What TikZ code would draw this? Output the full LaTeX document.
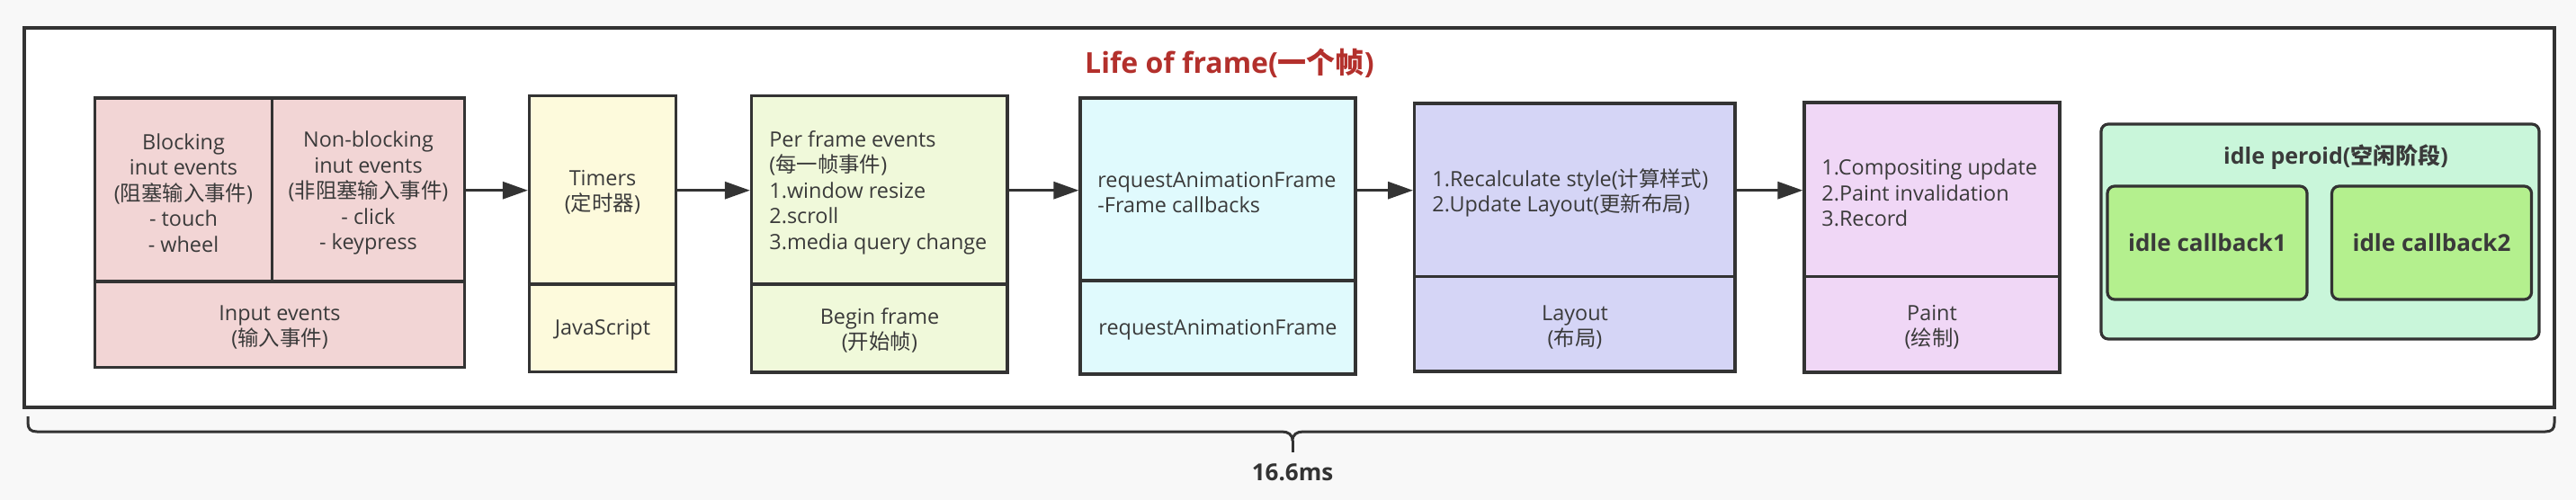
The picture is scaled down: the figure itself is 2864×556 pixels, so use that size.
\documentclass[tikz,border=0pt]{standalone}
\usepackage{fontspec}
\setmainfont{Open Sans}
\newfontfamily\cjk{Noto Sans CJK SC}
\newcommand{\zh}[1]{{\cjk #1}}
\usetikzlibrary{arrows.meta,calc}
\definecolor{bgc}{HTML}{F8F8F8}
\definecolor{lc}{HTML}{333333}
\definecolor{tc}{HTML}{3A3A3A}
\definecolor{cinp}{HTML}{F2D5D5}
\definecolor{ctim}{HTML}{FDFADC}
\definecolor{cbeg}{HTML}{F0F9DA}
\definecolor{craf}{HTML}{E0FAFD}
\definecolor{clay}{HTML}{D5D5F6}
\definecolor{cpai}{HTML}{F0D7F6}
\definecolor{cidl}{HTML}{C9F6DA}
\definecolor{ccb}{HTML}{B4F08E}
\definecolor{ctitle}{HTML}{B3302C}
\begin{document}
\begin{tikzpicture}[x=0.5pt,y=-0.5pt,
  box/.style={draw=lc, line width=1.6pt, inner sep=0pt},
  bline/.style={draw=lc, line width=1.6pt},
  arr/.style={draw=lc, line width=1.5pt, -{Triangle[length=14pt,width=9.5pt]}},
  txt/.style={text=tc, font=\fontsize{11.7}{14.25}\selectfont, align=center, inner sep=0pt},
  ltxt/.style={txt, align=left, anchor=west},
  btxt/.style={text=tc, font=\fontsize{13}{16}\selectfont\bfseries, inner sep=0pt}
]
\fill[bgc] (0,0) rectangle (2864,556);
\useasboundingbox (0,0) rectangle (2864,556);

% outer frame
\node[box, fill=white, minimum width=1406.5pt, minimum height=211pt] (frame) at (1433.5,242) {};
\node[text=ctitle, font=\fontsize{16}{19}\selectfont\bfseries, inner sep=0pt] (title) at (1367,70) {Life of frame(\zh{一个帧})};

% boxes
\node[box, fill=cinp, minimum width=205.45pt, minimum height=149.75pt] (inp) at (311,258.75) {};
\node[box, fill=ctim, minimum width=81.5pt, minimum height=153.5pt] (tim) at (670,260) {};
\node[box, fill=cbeg, minimum width=142.25pt, minimum height=153.75pt] (beg) at (977.75,260.25) {};
\node[box, fill=craf, minimum width=153pt, minimum height=153.5pt] (raf) at (1354,262.5) {};
\node[box, fill=clay, minimum width=178.2pt, minimum height=149pt] (lay) at (1750.8,264) {};
\node[box, fill=cpai, minimum width=142pt, minimum height=150pt] (pai) at (2148,264) {};

% dividers
\coordinate (d1) at (0,313);
\coordinate (d2) at (0,316);
\coordinate (d3) at (0,312);
\coordinate (d4) at (0,307.7);
\coordinate (dv) at (302.6,0);
\draw[bline] (inp.west |- d1) -- (inp.east |- d1);
\draw[bline] (dv |- inp.north) -- (dv |- d1);
\draw[bline] (tim.west |- d2) -- (tim.east |- d2);
\draw[bline] (beg.west |- d2) -- (beg.east |- d2);
\draw[bline] (raf.west |- d3) -- (raf.east |- d3);
\draw[bline] (lay.west |- d4) -- (lay.east |- d4);
\draw[bline] (pai.west |- d4) -- (pai.east |- d4);

% texts
\node[txt] (t1) at (204,214.5) {Blocking\\inut events\\(\zh{阻塞输入事件})\\- touch\\- wheel};
\node[txt] (t2) at (409.5,214.5) {Non-blocking\\inut events\\(\zh{非阻塞输入事件})\\- click\\- keypress};
\node[txt] (t3) at (311,364) {Input events\\(\zh{输入事件})};
\node[txt] (t4) at (670,214) {Timers\\(\zh{定时器})};
\node[txt] (t5) at (670,367) {JavaScript};
\node[ltxt] (t6) at (855,214) {Per frame events\\(\zh{每一帧事件})\\1.window resize\\2.scroll\\3.media query change};
\node[txt] (t7) at (978,367.5) {Begin frame\\(\zh{开始帧})};
\node[ltxt] (t8) at (1220,214) {requestAnimationFrame\\-Frame callbacks};
\node[txt] (t9) at (1354,367) {requestAnimationFrame};
\node[ltxt] (t10) at (1592,214.5) {1.Recalculate style(\zh{计算样式})\\2.Update Layout(\zh{更新布局})};
\node[txt] (t11) at (1751,364) {Layout\\(\zh{布局})};
\node[ltxt] (t12) at (2025,214.5) {1.Compositing update\\2.Paint invalidation\\3.Record};
\node[txt] (t13) at (2148,364) {Paint\\(\zh{绘制})};

% idle
\node[box, fill=cidl, rounded corners=4pt, minimum width=243.5pt, minimum height=119.5pt] (idle) at (2579.5,257.5) {};
\node[btxt, font=\fontsize{12.5}{15}\selectfont\bfseries] (idlet) at (2597,175) {idle peroid(\zh{空闲阶段})};
\node[box, fill=ccb, rounded corners=4pt, minimum width=111pt, minimum height=63pt] (cb1) at (2454,270) {};
\node[box, fill=ccb, rounded corners=4pt, minimum width=111pt, minimum height=63pt] (cb2) at (2703.5,270) {};
\node[btxt] at (cb1) {idle callback1};
\node[btxt] at (cb2) {idle callback2};

% arrows
\coordinate (ay) at (0,211.7);
\draw[arr] (inp.east |- ay) -- (tim.west |- ay);
\draw[arr] (tim.east |- ay) -- (beg.west |- ay);
\draw[arr] (beg.east |- ay) -- (raf.west |- ay);
\draw[arr] (raf.east |- ay) -- (lay.west |- ay);
\draw[arr] (lay.east |- ay) -- (pai.west |- ay);

% brace
\coordinate (bl) at (31,463);
\coordinate (br) at (2840,463);
\coordinate (btip) at (1437,490);
\coordinate (bend) at (1437,503);
\draw[lc, line width=1.5pt, line join=round]
  (bl) -- (31,470) .. controls (31,477) and (34,480) .. (41,480) -- (1425,480)
  .. controls (1432,480) and (1437,483) .. (btip)
  .. controls (1437,483) and (1442,480) .. (1449,480) -- (2830,480)
  .. controls (2837,480) and (2840,477) .. (2840,470) -- (br);
\draw[lc, line width=1.5pt] (btip) -- (bend);
\node[text=lc, font=\fontsize{13}{15}\selectfont\bfseries, inner sep=0pt] (ms) at (1437,525) {16.6ms};
\end{tikzpicture}
\end{document}
